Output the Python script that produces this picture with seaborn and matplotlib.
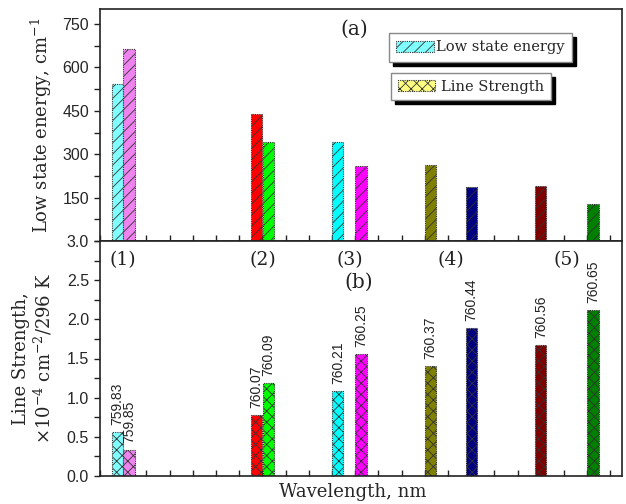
import matplotlib
matplotlib.use("Agg")
import matplotlib.pyplot as plt
import seaborn as sns
import pandas as pd
import numpy as np
from matplotlib.patches import Patch
from matplotlib.ticker import MultipleLocator, NullFormatter, FixedLocator

# ---------------- data ----------------
wavelengths = [759.83, 759.85, 760.07, 760.09, 760.21, 760.25, 760.37, 760.44, 760.56, 760.65]
wl_labels = ["759.83", "759.85", "760.07", "760.09", "760.21", "760.25", "760.37", "760.44", "760.56", "760.65"]
low_state_energy = [543, 662, 439, 342, 342, 258, 261, 187, 189, 127]
line_strength = [0.56, 0.33, 0.78, 1.19, 1.09, 1.56, 1.40, 1.89, 1.67, 2.12]
bar_colors = ["#80FFFF", "#EE82EE", "#FF0000", "#00FF00", "#00FFFF",
              "#FF00FF", "#808000", "#000080", "#800000", "#008000"]
group_labels = ["(1)", "(2)", "(3)", "(4)", "(5)"]

df = pd.DataFrame({"wl": wavelengths, "lab": wl_labels,
                   "E": low_state_energy, "S": line_strength})

sns.set_theme(style="ticks")
plt.rcParams["font.family"] = ["DejaVu Serif"]
plt.rcParams["mathtext.fontset"] = "dejavuserif"
plt.rcParams["hatch.linewidth"] = 0.6
plt.rcParams["hatch.color"] = "#333333"

W, H = 626, 504
fig = plt.figure(figsize=(W / 100, H / 100), dpi=100)
L, R = 100, 622
ax1 = fig.add_axes([L / W, 1 - 241 / H, (R - L) / W, (241 - 9) / H])
ax2 = fig.add_axes([L / W, 1 - 476 / H, (R - L) / W, (476 - 241) / H])

pal = dict(zip(wl_labels, bar_colors))
sns.barplot(data=df, x="wl", y="E", hue="lab", hue_order=wl_labels, palette=pal,
            native_scale=True, width=0.95, legend=False, saturation=1, ax=ax1)
sns.barplot(data=df, x="wl", y="S", hue="lab", hue_order=wl_labels, palette=pal,
            native_scale=True, width=0.95, legend=False, saturation=1, ax=ax2)

for ax, hatch in ((ax1, "///"), (ax2, "xxx")):
    for p in ax.patches:
        p.set_hatch(hatch)
        p.set_edgecolor("#333333")
        p.set_linestyle((0, (1, 1)))
        p.set_linewidth(0.8)

tick_font = {"family": "Liberation Sans", "size": 11.5}
for ax in (ax1, ax2):
    ax.set_xlim(759.80, 760.70)
    ax.xaxis.set_major_locator(FixedLocator(np.arange(759.80, 760.70, 0.04)))
    ax.xaxis.set_major_formatter(NullFormatter())
    ax.tick_params(axis="x", direction="in", length=4, width=1, color="#222222", top=False)
    ax.tick_params(axis="y", which="both", direction="out", length=4, width=1, color="#222222", pad=4)
    for s in ax.spines.values():
        s.set_visible(True)
        s.set_linewidth(1.2)
        s.set_color("#222222")
    ax.set_xlabel("")
    ax.set_ylabel("")
    ax.grid(False)

ax1.set_ylim(0, 802)
ax1.set_yticks([150, 300, 450, 600, 750])
ax1.set_yticklabels(["150", "300", "450", "600", "750"], fontdict=tick_font)
ax1.yaxis.set_minor_locator(MultipleLocator(75))

ax2.set_ylim(0, 3.0)
ax2.set_yticks(np.arange(0, 3.01, 0.5))
ax2.set_yticklabels(["0.0", "0.5", "1.0", "1.5", "2.0", "2.5", "3.0"], fontdict=tick_font)
ax2.yaxis.set_minor_locator(MultipleLocator(0.25))

ax1.set_ylabel("Low state energy, cm$^{-1}$", fontsize=13)
ax1.yaxis.set_label_coords(-0.088, 0.5)
ax2.set_ylabel("Line Strength,\n$\\times$10$^{-4}$ cm$^{-2}$/296 K", fontsize=13, linespacing=1.1)
ax2.yaxis.set_label_coords(-0.088, 0.5)
ax2.set_xlabel("Wavelength, nm", fontsize=13)
ax2.xaxis.set_label_coords((353 - L) / (R - L), -0.03)

# bar value labels (wavelengths)
for x, y, t in zip(wavelengths, line_strength, wl_labels):
    ax2.annotate(t, (x, y), xytext=(0, 5), textcoords="offset points",
                 rotation=90, ha="center", va="bottom",
                 family="Liberation Sans", fontsize=10, color="#222222")

# group labels
for i, g in enumerate(group_labels):
    cx = (wavelengths[2 * i] + wavelengths[2 * i + 1]) / 2
    ax2.text(cx, 2.76, g, ha="center", va="center", fontsize=13.5, color="#222222")

ax1.text(760.238, 733, "(a)", ha="center", va="center", fontsize=14.5, color="#222222")
ax2.text(760.246, 2.47, "(b)", ha="center", va="center", fontsize=14.5, color="#222222")

# legends: two separate boxes with shadows
h1 = Patch(facecolor="#80FFFF", edgecolor="#333333", hatch="///", linestyle=(0, (1, 1)), linewidth=0.8)
h2 = Patch(facecolor="#FFFF80", edgecolor="#333333", hatch="xxx", linestyle=(0, (1, 1)), linewidth=0.8)
sh = {"color": "black", "alpha": 1, "ox": 3, "oy": -3}
leg1 = ax1.legend([h1], ["Low state energy"], loc="upper left",
                  bbox_to_anchor=(389 / W, 1 - 33 / H), bbox_transform=fig.transFigure,
                  borderaxespad=0, fancybox=False, shadow=sh, framealpha=1,
                  edgecolor="#888888", fontsize=10.5, handlelength=2.6, handleheight=0.8,
                  handletextpad=0.15, borderpad=0.5)
leg1.get_frame().set_linewidth(1)
ax1.add_artist(leg1)
leg2 = ax1.legend([h2], ["Line Strength"], loc="upper left",
                  bbox_to_anchor=(391 / W, 1 - 73 / H), bbox_transform=fig.transFigure,
                  borderaxespad=0, fancybox=False, shadow=sh, framealpha=1,
                  edgecolor="#888888", fontsize=10.5, handlelength=2.6, handleheight=0.8,
                  handletextpad=0.4, borderpad=0.45)
leg2.get_frame().set_linewidth(1)

fig.savefig("out.png", dpi=100)
